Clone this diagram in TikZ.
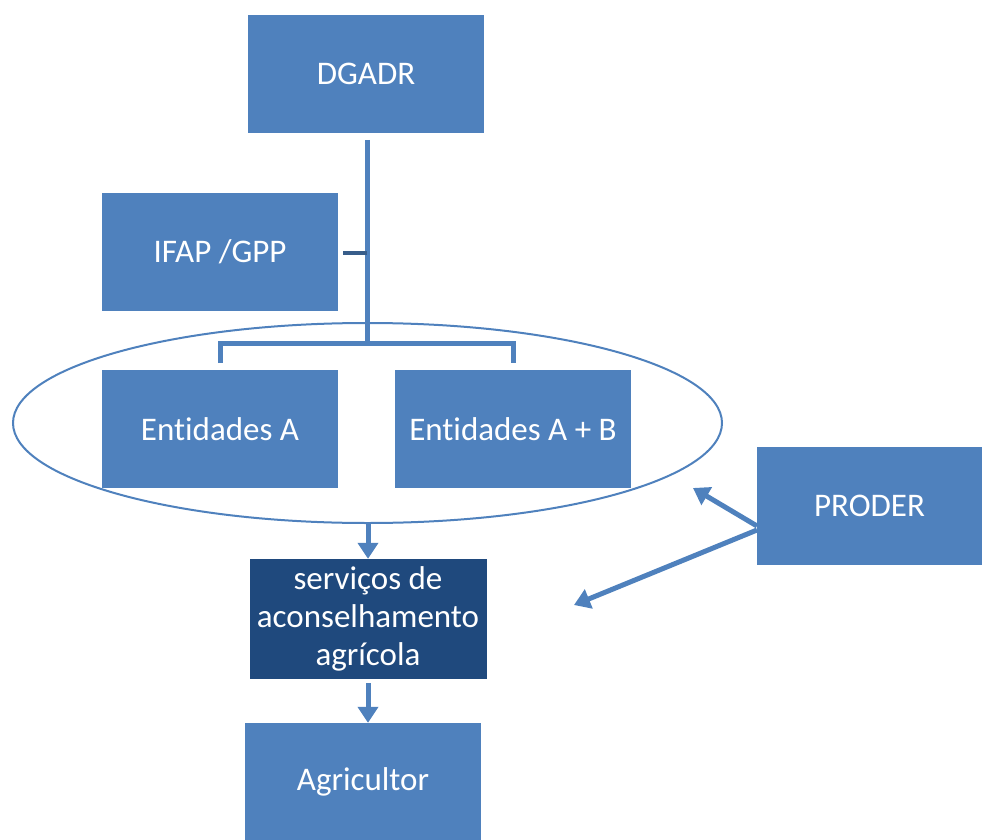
\documentclass[tikz,border=0pt]{standalone}
\usepackage{fontspec}
\setmainfont{Carlito}[Ligatures=NoCommon]
\usetikzlibrary{arrows.meta,shapes.geometric}
\definecolor{boxblue}{HTML}{4F81BD}
\definecolor{darkblue}{HTML}{1F497D}
\definecolor{tickblue}{HTML}{385D8A}
\tikzset{
  box/.style={fill=boxblue, draw=none, minimum width=236pt, minimum height=118pt, inner sep=0pt, text=white, font=\fontsize{33}{38}\selectfont, align=center},
  darkbox/.style={box, fill=darkblue},
  conn/.style={draw=boxblue, line width=5pt},
  arr/.style={draw=boxblue, line width=5pt, -{Triangle[length=16pt, width=20pt]}},
}
\begin{document}
\begin{tikzpicture}[x=1pt, y=-1pt]
\useasboundingbox (0,0) rectangle (982,840);
\node[box] (dgadr) at (366,74) {DGADR};
\node[box] (ifap) at (220,251.5) {IFAP /GPP};
\node[draw=boxblue, line width=2pt, ellipse, minimum width=709pt, minimum height=200pt, inner sep=0pt] (ell) at (367.5,423) {};
\node[box] (entA) at (220,429) {Entidades A};
\node[box] (entAB) at (513,429) {Entidades A + B};
\node[box, minimum width=225pt] (proder) at (869.5,506) {PRODER};
\node[darkbox, minimum width=237pt, minimum height=120pt] (serv) at (368,619) {serviços de\\aconselhamento\\agrícola};
\node[box] (agri) at (363,782) {Agricultor};
% tree connector
\coordinate (top) at (367,140);
\coordinate (jn) at (367,343);
\coordinate (tk) at (367,253);
\draw[conn] (top) -- (jn);
\draw[conn] (entA.north |- jn) ++(0,20) coordinate (la) -- (entA.north |- jn) -- (entAB.north |- jn) -- ++(0,20) coordinate (lb);
\draw[draw=tickblue, line width=4pt] (ifap.east |- tk) ++(5,0) -- (tk);
% arrows down
\draw[arr] (ell.south -| serv.north) -- (serv.north);
\draw[arr] (serv.south) ++(0,4) coordinate (s2) -- (s2 |- agri.north);
% PRODER arrows
\coordinate (pa) at (757,526);
\coordinate (pb) at (757,530);
\coordinate (t1) at (693,488);
\coordinate (t2) at (574,605);
\draw[arr] (pa) -- (t1);
\draw[arr] (pb) -- (t2);
\end{tikzpicture}
\end{document}
